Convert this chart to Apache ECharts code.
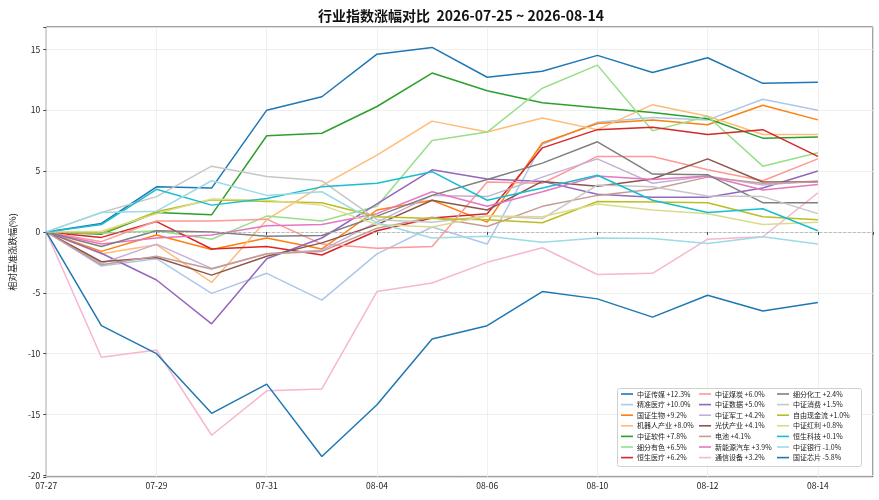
<!DOCTYPE html>
<html>
<head>
<meta charset="utf-8">
<script src="https://cdn.jsdelivr.net/npm/echarts@6/dist/echarts.min.js"></script>
<style>
  html, body { margin: 0; padding: 0; background: #fff; }
  #chart { width: 879px; height: 500px; }
</style>
</head>
<body>
<div id="chart"></div>
<script>
// 交易日（x 轴按序号排布）
var dates = ['07-27', '07-28', '07-29', '07-30', '07-31', '08-03', '08-04', '08-05',
             '08-06', '08-07', '08-10', '08-11', '08-12', '08-13', '08-14'];

var names = ['中证传媒', '精准医疗', '国证生物', '机器人产业', '中证软件', '细分有色', '恒生医疗',
             '中证煤炭', '中证数据', '中证军工', '光伏产业', '电池', '新能源汽车', '通信设备',
             '细分化工', '中证消费', '自由现金流', '中证红利', '恒生科技', '中证银行', '国证芯片'];
// 图例里的区间涨幅
var changes = [12.3, 10.0, 9.2, 8.0, 7.8, 6.5, 6.2, 6.0, 5.0, 4.2, 4.1, 4.1, 3.9, 3.2,
               2.4, 1.5, 1.0, 0.8, 0.1, -1.0, -5.8];

// 各指数相对基准涨跌幅(%)
var chuanmei    = [0, 0.7, 3.7, 3.6, 10.0, 11.1, 14.6, 15.15, 12.7, 13.2, 14.5, 13.1, 14.3, 12.2, 12.3];
var jingzhun    = [0, -2.8, -2.2, -5.05, -3.4, -5.6, -1.8, 0.4, -1.0, 7.2, 9.0, 9.4, 9.2, 10.9, 10.0];
var shengwu     = [0, -1.6, -0.25, -1.45, -0.5, -1.4, 1.8, 2.6, 0.8, 7.3, 8.9, 9.2, 8.8, 10.4, 9.2];
var jiqiren     = [0, -1.8, -1.05, -4.15, 1.0, 3.8, 6.3, 9.1, 8.2, 9.35, 8.4, 10.45, 9.5, 8.0, 8.0];
var ruanjian    = [0, -0.2, 1.6, 1.4, 7.9, 8.1, 10.3, 13.05, 11.6, 10.6, 10.2, 9.8, 9.3, 7.7, 7.8];
var youse       = [0, -0.1, 0.1, -0.6, 1.3, 0.9, 2.1, 7.5, 8.2, 11.8, 13.7, 8.3, 9.5, 5.4, 6.5];
var hsyiliao    = [0, -0.45, 0.85, -1.4, -1.2, -1.9, 0.1, 1.15, 1.5, 6.9, 8.4, 8.6, 8.0, 8.4, 6.2];
var meitan      = [0, -0.8, 0.9, 0.9, 1.05, -1.0, -1.35, -1.2, 4.1, 4.0, 6.2, 6.2, 5.1, 4.2, 6.0];
var shuju       = [0, -1.75, -3.95, -7.55, -2.2, -0.5, 2.3, 5.1, 4.35, 4.15, 3.1, 2.85, 2.85, 3.6, 5.0];
var jungong     = [0, -2.6, -1.0, -3.0, -1.8, -1.5, 0.8, 3.0, 2.9, 4.5, 6.0, 4.0, 4.6, 3.85, 4.2];
var guangfu     = [0, -2.45, -2.1, -3.55, -2.0, -0.9, 0.6, 2.6, 1.8, 4.15, 3.75, 4.35, 6.0, 4.1, 4.1];
var dianchi     = [0, -2.7, -2.0, -3.05, -1.8, -1.6, 0.3, 1.2, 0.45, 2.1, 3.0, 3.5, 4.5, 4.0, 4.1];
var xinnengyuan = [0, -1.0, -0.5, -0.25, 0.5, 0.6, 1.5, 3.3, 2.1, 3.3, 4.6, 4.3, 4.6, 3.45, 3.9];
var tongxin     = [0, -10.3, -9.7, -16.7, -13.05, -12.9, -4.9, -4.2, -2.5, -1.3, -3.5, -3.4, -0.6, -0.4, 3.2];
var huagong     = [0, -1.2, 0.1, 0.0, -0.35, -0.3, 1.3, 3.0, 4.3, 5.65, 7.4, 4.75, 4.7, 2.4, 2.4];
var xiaofei     = [0, 1.6, 2.9, 5.4, 4.55, 4.2, 1.0, 0.8, 1.3, 1.1, 3.85, 3.7, 2.95, 2.9, 1.5];
var xianjinliu  = [0, -0.1, 1.65, 2.65, 2.5, 2.4, 1.25, 1.1, 1.0, 0.75, 2.5, 2.45, 2.4, 1.25, 1.0];
var hongli      = [0, 0.05, 1.5, 2.7, 2.6, 2.2, 0.6, 0.4, 1.3, 1.25, 2.3, 1.8, 1.5, 0.6, 0.8];
var hskeji      = [0, 0.6, 3.5, 2.2, 2.75, 3.7, 4.0, 4.95, 2.6, 3.6, 4.65, 2.6, 1.6, 1.9, 0.1];
var yinhang     = [0, 1.6, 1.7, 4.2, 3.0, 3.3, 0.75, -0.5, -0.35, -0.85, -0.5, -0.55, -0.95, -0.4, -1.0];
var xinpian     = [0, -7.7, -10.0, -14.9, -12.5, -18.45, -14.2, -8.8, -7.7, -4.9, -5.5, -7.0, -5.2, -6.5, -5.8];

var allValues = [chuanmei, jingzhun, shengwu, jiqiren, ruanjian, youse, hsyiliao,
                 meitan, shuju, jungong, guangfu, dianchi, xinnengyuan, tongxin,
                 huagong, xiaofei, xianjinliu, hongli, hskeji, yinhang, xinpian];

// matplotlib tab20
var palette = ['#1f77b4', '#aec7e8', '#ff7f0e', '#ffbb78', '#2ca02c', '#98df8a', '#d62728',
               '#ff9896', '#9467bd', '#c5b0d5', '#8c564b', '#c49c94', '#e377c2', '#f7b6d2',
               '#7f7f7f', '#c7c7c7', '#bcbd22', '#dbdb8d', '#17becf', '#9edae5'];

var FONT = '"Noto Sans CJK SC", "Noto Sans", sans-serif';

function label(i) {
    var c = changes[i];
    return names[i] + ' ' + (c >= 0 ? '+' : '') + c.toFixed(1) + '%';
}

var series = allValues.map(function (vals, i) {
    var s = {
        name: label(i),
        type: 'line',
        showSymbol: false,
        symbol: 'none',
        color: palette[i % palette.length],
        lineStyle: { width: 1.5 },
        data: vals.map(function (v, k) { return [k, v]; })
    };
    if (i === 0) {
        s.markLine = {
            silent: true,
            symbol: ['none', 'none'],
            label: { show: false },
            lineStyle: { color: '#b0b0b0', type: 'dashed', width: 0.8 },
            data: [{ yAxis: 0 }]
        };
    }
    return s;
});

function legendCol(start, left) {
    var d = [];
    for (var i = start; i < start + 7; i++) d.push(label(i));
    return {
        orient: 'vertical',
        left: left,
        top: 390,
        icon: 'rect',
        itemWidth: 12,
        itemHeight: 1.6,
        itemGap: 2.6,
        padding: 0,
        selectedMode: false,
        textStyle: { fontSize: 7, lineHeight: 8, color: '#222', fontFamily: FONT, padding: [0, 0, 0, -1] },
        data: d
    };
}

var chart = echarts.init(document.getElementById('chart'), null, { renderer: 'canvas' });

var option = {
    animation: false,
    backgroundColor: '#fff',
    title: {
        text: '行业指数涨幅对比  2026-07-25 ~ 2026-08-14',
        left: 456,
        textAlign: 'center',
        top: 4,
        textStyle: { fontSize: 14, fontWeight: 'bold', color: '#111', fontFamily: FONT }
    },
    grid: {
        left: 40, right: 6, top: 27, bottom: 23,
        show: true, borderColor: '#444', borderWidth: 1, backgroundColor: 'transparent'
    },
    legend: [legendCol(0, 621), legendCol(7, 699), legendCol(14, 777)],
    graphic: [{
        type: 'rect',
        left: 617, top: 388, z: 3,
        shape: { width: 244, height: 78, r: 2 },
        style: { fill: 'rgba(255,255,255,0.85)', stroke: '#d0d0d0', lineWidth: 1 }
    }],
    xAxis: {
        type: 'value',
        min: 0, max: 15, interval: 2,
        axisLine: { show: false },
        axisTick: { show: true, length: 3, lineStyle: { color: '#444' } },
        axisLabel: {
            margin: 5, fontSize: 8.5, color: '#222', fontFamily: FONT,
            formatter: function (v) { return dates[v] || ''; }
        },
        splitLine: { show: true, lineStyle: { color: '#ececec', width: 0.8 } }
    },
    yAxis: {
        type: 'value',
        min: -20.13, max: 16.83,
        minInterval: 5, maxInterval: 5,
        name: '相对基准涨跌幅(%)',
        nameLocation: 'middle',
        nameRotate: 90,
        nameGap: 27,
        nameTextStyle: { fontSize: 9, color: '#222', fontFamily: FONT },
        axisLine: { show: false },
        axisTick: { show: true, length: 3, lineStyle: { color: '#444' } },
        axisLabel: {
            margin: 6, fontSize: 8.5, color: '#222', fontFamily: FONT,
            formatter: function (v) {
                var r = Math.round(v / 5) * 5;
                return Math.abs(v - r) < 1e-6 ? String(r) : '';
            }
        },
        splitLine: { show: true, lineStyle: { color: '#ececec', width: 0.8 } }
    },
    series: series
};

chart.setOption(option);
</script>
</body>
</html>
